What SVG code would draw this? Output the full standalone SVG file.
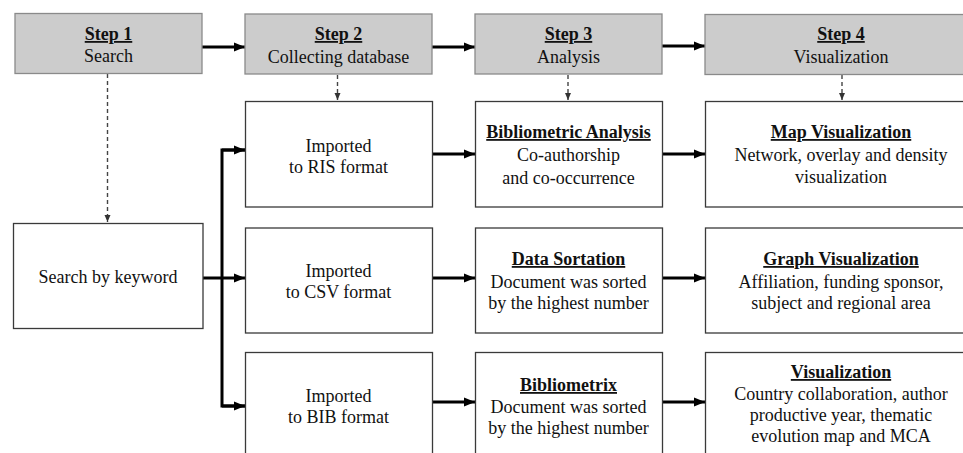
<svg xmlns="http://www.w3.org/2000/svg" width="963" height="453" viewBox="0 0 963 453">
<defs>
<style>
.step{fill:#cccccc;stroke:#8a8a8a;stroke-width:1.3}
.box{fill:#ffffff;stroke:#3a3a3a;stroke-width:1.3}
text{font-family:"Liberation Serif","Times New Roman",serif;font-size:18px;fill:#111;text-anchor:middle}
.b{font-weight:bold;text-decoration:underline}
.solid{stroke:#000;stroke-width:3;fill:none}
.dash{stroke:#444;stroke-width:1.4;fill:none;stroke-dasharray:4 3}
</style>
<marker id="ah" markerUnits="userSpaceOnUse" markerWidth="12" markerHeight="10" refX="11" refY="5" orient="auto">
<path d="M0,0.5 L11,5 L0,9.5 z" fill="#000"/>
</marker>
<marker id="ahs" markerUnits="userSpaceOnUse" markerWidth="8" markerHeight="8" refX="7" refY="3.5" orient="auto">
<path d="M0,0.5 L7,3.5 L0,6.5 z" fill="#333"/>
</marker>
</defs>
<rect width="963" height="453" fill="#fff"/>

<g id="connectors">
<line class="solid" x1="202" y1="47" x2="245" y2="47" marker-end="url(#ah)"/>
<line class="solid" x1="432" y1="47" x2="475" y2="47" marker-end="url(#ah)"/>
<line class="solid" x1="662" y1="46" x2="705" y2="46" marker-end="url(#ah)"/>
<line class="dash" x1="107.5" y1="74" x2="107.5" y2="222" marker-end="url(#ahs)"/>
<line class="dash" x1="337.5" y1="75" x2="337.5" y2="100" marker-end="url(#ahs)"/>
<line class="dash" x1="568" y1="75" x2="568" y2="100" marker-end="url(#ahs)"/>
<line class="dash" x1="842" y1="75" x2="842" y2="100" marker-end="url(#ahs)"/>
<line class="solid" x1="203" y1="278" x2="245" y2="278" marker-end="url(#ah)"/>
<polyline class="solid" points="245,150 222,150 222,406 245,406" stroke-linejoin="miter"/>
<line class="solid" x1="222" y1="150" x2="245" y2="150" marker-end="url(#ah)"/>
<line class="solid" x1="222" y1="406" x2="245" y2="406" marker-end="url(#ah)"/>
<line class="solid" x1="432" y1="154" x2="475" y2="154" marker-end="url(#ah)"/>
<line class="solid" x1="432" y1="278" x2="475" y2="278" marker-end="url(#ah)"/>
<line class="solid" x1="433" y1="402" x2="475" y2="402" marker-end="url(#ah)"/>
<line class="solid" x1="662" y1="154" x2="705" y2="154" marker-end="url(#ah)"/>
<line class="solid" x1="662" y1="278" x2="705" y2="278" marker-end="url(#ah)"/>
<line class="solid" x1="662" y1="402" x2="705" y2="402" marker-end="url(#ah)"/>
</g>

<g id="step1"><rect class="step" x="15" y="13.5" width="187" height="60"/>
<text x="108.5" y="40"><tspan class="b">Step 1</tspan></text>
<text x="108.5" y="62">Search</text></g>
<g id="step2"><rect class="step" x="245" y="14" width="187" height="60"/>
<text x="338.5" y="40"><tspan class="b">Step 2</tspan></text>
<text x="338.5" y="63">Collecting database</text></g>
<g id="step3"><rect class="step" x="475" y="14" width="187" height="60"/>
<text x="568.5" y="40"><tspan class="b">Step 3</tspan></text>
<text x="568.5" y="63">Analysis</text></g>
<g id="step4"><rect class="step" x="705" y="14.5" width="272" height="60"/>
<text x="841" y="40"><tspan class="b">Step 4</tspan></text>
<text x="841" y="63">Visualization</text></g>

<g id="search"><rect class="box" x="13.5" y="223.5" width="189.5" height="105"/>
<text x="108" y="283">Search by keyword</text></g>

<g id="ris"><rect class="box" x="245.5" y="101.5" width="187" height="105.5"/>
<text x="338.5" y="152">Imported</text><text x="338.5" y="173">to RIS format</text></g>
<g id="csv"><rect class="box" x="245.5" y="228" width="187" height="105"/>
<text x="338.5" y="277">Imported</text><text x="338.5" y="298">to CSV format</text></g>
<g id="bib"><rect class="box" x="245.5" y="352.5" width="187" height="110"/>
<text x="338.5" y="402">Imported</text><text x="338.5" y="423">to BIB format</text></g>

<g id="biblio-analysis"><rect class="box" x="475.5" y="101.5" width="187" height="105.5"/>
<text x="568.5" y="138"><tspan class="b">Bibliometric Analysis</tspan></text>
<text x="568.5" y="161">Co-authorship</text><text x="568.5" y="184">and co-occurrence</text></g>
<g id="data-sortation"><rect class="box" x="475.5" y="228" width="187" height="105"/>
<text x="568.5" y="265"><tspan class="b">Data Sortation</tspan></text>
<text x="568.5" y="288">Document was sorted</text><text x="568.5" y="309">by the highest number</text></g>
<g id="bibliometrix"><rect class="box" x="475.5" y="352.5" width="187" height="110"/>
<text x="568.5" y="391"><tspan class="b">Bibliometrix</tspan></text>
<text x="568.5" y="413">Document was sorted</text><text x="568.5" y="434">by the highest number</text></g>

<g id="map-vis"><rect class="box" x="705.5" y="101.5" width="272" height="105.5"/>
<text x="841" y="138"><tspan class="b">Map Visualization</tspan></text>
<text x="841" y="161">Network, overlay and density</text><text x="841" y="183">visualization</text></g>
<g id="graph-vis"><rect class="box" x="705.5" y="228" width="272" height="105"/>
<text x="841" y="265"><tspan class="b">Graph Visualization</tspan></text>
<text x="841" y="288">Affiliation, funding sponsor,</text><text x="841" y="309">subject and regional area</text></g>
<g id="vis"><rect class="box" x="705.5" y="352.5" width="272" height="110"/>
<text x="841" y="378"><tspan class="b">Visualization</tspan></text>
<text x="841" y="400">Country collaboration, author</text><text x="841" y="421">productive year, thematic</text><text x="841" y="442">evolution map and MCA</text></g>
</svg>
